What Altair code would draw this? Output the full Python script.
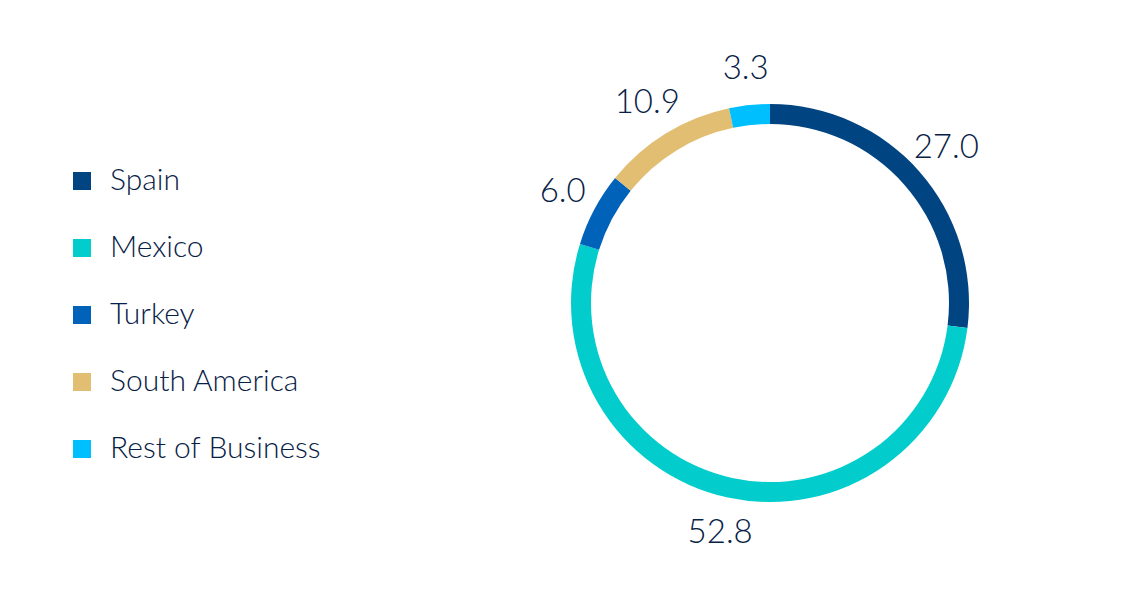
import altair as alt
import pandas as pd

categories = ["Spain", "Mexico", "Turkey", "South America", "Rest of Business"]
values = [27.0, 52.8, 6.0, 10.9, 3.3]
labels = ["27.0", "52.8", "6.0", "10.9", "3.3"]
colors = ["#004481", "#02CDCC", "#0062B9", "#E2BE72", "#00BFFF"]

df = pd.DataFrame({"cat": categories, "val": values, "lab": labels, "order": list(range(len(categories)))})

TEXT = "#072146"
FONT = "Lato"

base = alt.Chart(df).encode(
    theta=alt.Theta("val:Q", stack=True),
    order=alt.Order("order:Q"),
)

arcs = base.mark_arc(outerRadius=199, innerRadius=179).encode(
    x=alt.value(762), y=alt.value(295),
    color=alt.Color(
        "cat:N",
        scale=alt.Scale(domain=categories, range=colors),
        sort=categories,
        legend=alt.Legend(
            title=None, orient="none", legendX=59, legendY=158,
            symbolType="square", symbolSize=324, symbolStrokeWidth=0,
            labelFontSize=30, labelFont=FONT, labelFontWeight=300, labelColor=TEXT,
            labelOffset=13, rowPadding=37, labelLimit=400,
        ),
    ),
)

text = base.mark_text(radius=235, fontSize=33, font=FONT, fontWeight=300, color=TEXT,
                      align="center", baseline="middle").encode(
    x=alt.value(762), y=alt.value(295),
    text="lab:N",
)

chart = (arcs + text).properties(
    width=1131, height=578,
    autosize=alt.AutoSizeParams(type="none"),
    padding=0,
).configure_view(stroke=None)

chart.save("out.html", embed_options={"renderer": "svg", "actions": False})
